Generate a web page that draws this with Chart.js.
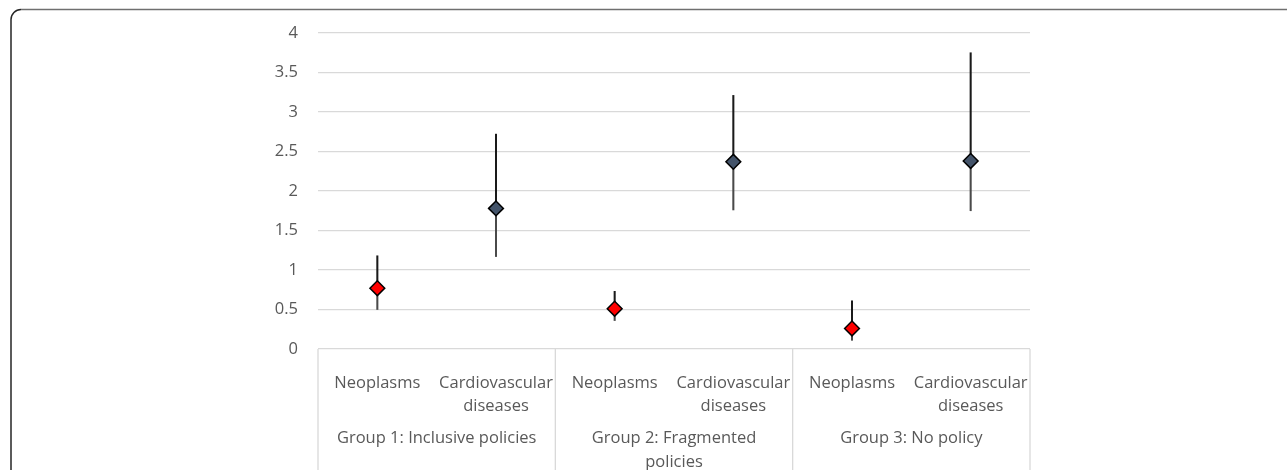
<!DOCTYPE html>
<html>
<head>
<meta charset="utf-8">
<script src="https://cdn.jsdelivr.net/npm/chart.js@4.4.1/dist/chart.umd.min.js"></script>
<style>
  html, body { margin: 0; padding: 0; background: #fff; overflow: hidden; }
  #wrap { position: relative; width: 1287px; height: 470px; }
</style>
</head>
<body>
<div id="wrap"><canvas id="chart"></canvas></div>
<script>
// data
const groups = [["Group 1: Inclusive policies"], ["Group 2: Fragmented", "policies"], ["Group 3: No policy"]];
const causes = ["Neoplasms", ["Cardiovascular", "diseases"]];
const neoMid = [0.77, 0.51, 0.26];
const neoLow = [0.50, 0.36, 0.11];
const neoHigh = [1.18, 0.73, 0.61];
const cvdMid = [1.78, 2.37, 2.38];
const cvdLow = [1.17, 1.76, 1.75];
const cvdHigh = [2.72, 3.21, 3.75];
const yMin = 0;
const yMax = 4;
const yStep = 0.5;

const fontFamily = "'Open Sans', sans-serif";
const fontSize = 16.5;
const textColor = "#595959";
const gridColor = "#d9d9d9";

// one category per (group, cause)
const labels = [];
const mid = [];
const upper = [];
const lower = [];
const pointColors = [];
for (let g = 0; g < groups.length; g++) {
  labels.push(causes[0], causes[1]);
  mid.push(neoMid[g], cvdMid[g]);
  upper.push([neoMid[g], neoHigh[g]], [cvdMid[g], cvdHigh[g]]);
  lower.push([neoLow[g], neoMid[g]], [cvdLow[g], cvdMid[g]]);
  pointColors.push("#ff0000", "#44546a");
}

// rounded frame round the figure
const framePlugin = {
  id: "frame",
  beforeDraw(chart) {
    const ctx = chart.ctx;
    ctx.save();
    ctx.lineWidth = 1.5;
    ctx.strokeStyle = "#262626";
    ctx.beginPath();
    ctx.moveTo(11, chart.height);
    ctx.lineTo(11, 20);
    ctx.arcTo(11, 9.5, 22, 9.5, 10);
    ctx.stroke();
    ctx.strokeStyle = "#6f6f6f";
    ctx.beginPath();
    ctx.moveTo(21, 9.5);
    ctx.lineTo(chart.width, 9.5);
    ctx.stroke();
    ctx.restore();
  },
};

// group labels and the separators under the axis
const groupPlugin = {
  id: "groups",
  afterDraw(chart) {
    const ctx = chart.ctx;
    const x = chart.scales.x;
    const per = causes.length;
    const edges = [x.left];
    for (let g = 1; g < groups.length; g++) {
      edges.push((x.getPixelForValue(g * per - 1) + x.getPixelForValue(g * per)) / 2);
    }
    edges.push(x.right);

    ctx.save();
    ctx.strokeStyle = gridColor;
    ctx.lineWidth = 1.3;
    edges.forEach((ex) => {
      ctx.beginPath();
      ctx.moveTo(ex, x.top);
      ctx.lineTo(ex, chart.height);
      ctx.stroke();
    });

    ctx.fillStyle = textColor;
    ctx.font = fontSize + "px " + fontFamily;
    ctx.textAlign = "center";
    ctx.textBaseline = "middle";
    groups.forEach((lines, g) => {
      const cx = (edges[g] + edges[g + 1]) / 2;
      lines.forEach((line, i) => {
        ctx.fillText(line, cx, x.top + 89 + i * 24);
      });
    });
    ctx.restore();
  },
};

const ctx = document.getElementById("chart").getContext("2d");
new Chart(ctx, {
  data: {
    labels: labels,
    datasets: [
      {
        type: "line",
        data: mid,
        showLine: false,
        pointStyle: "rectRot",
        pointRadius: 7.4,
        pointHoverRadius: 7.4,
        pointBackgroundColor: pointColors,
        pointBorderColor: "#000000",
        pointBorderWidth: 1.5,
        order: 0,
      },
      {
        type: "bar",
        data: upper,
        backgroundColor: "#1a1a1a",
        barThickness: 1.4,
        grouped: false,
        order: 1,
      },
      {
        type: "bar",
        data: lower,
        backgroundColor: "#4a4a4a",
        barThickness: 1.4,
        grouped: false,
        order: 1,
      },
    ],
  },
  options: {
    responsive: true,
    maintainAspectRatio: false,
    animation: false,
    devicePixelRatio: 1,
    layout: { padding: { top: 33, right: 257, bottom: 0, left: 0 } },
    plugins: {
      legend: { display: false },
      tooltip: { enabled: false },
    },
    scales: {
      x: {
        grid: { display: false },
        border: { display: false },
        ticks: {
          color: textColor,
          font: { family: fontFamily, size: fontSize, lineHeight: 1.4 },
          padding: 14.5,
          maxRotation: 0,
          autoSkip: false,
        },
        afterFit(scale) {
          scale.height = 121;
        },
      },
      y: {
        min: yMin,
        max: yMax,
        grid: { color: gridColor, lineWidth: 1.3, drawTicks: false },
        border: { display: false },
        ticks: {
          stepSize: yStep,
          color: textColor,
          font: { family: fontFamily, size: fontSize },
          padding: 20,
          callback: (value) => String(value),
        },
        afterFit(scale) {
          scale.width = 318;
        },
      },
    },
  },
  plugins: [framePlugin, groupPlugin],
});
</script>
</body>
</html>
